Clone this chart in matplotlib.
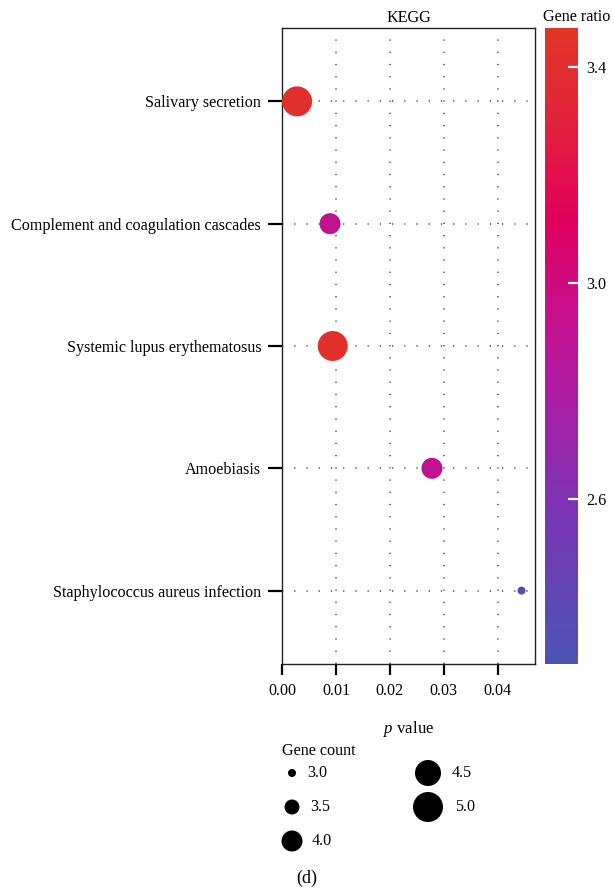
import numpy as np
import matplotlib
matplotlib.use("Agg")
import matplotlib.pyplot as plt
from matplotlib.colors import LinearSegmentedColormap, Normalize
from matplotlib.colorbar import ColorbarBase

plt.rcParams['font.family'] = ['Liberation Serif', 'DejaVu Serif']
plt.rcParams['mathtext.fontset'] = 'custom'
plt.rcParams['mathtext.rm'] = 'Liberation Serif'
plt.rcParams['mathtext.it'] = 'Liberation Serif:italic'

pathways = ["Salivary secretion", "Complement and coagulation cascades",
            "Systemic lupus erythematosus", "Amoebiasis",
            "Staphylococcus aureus infection"]
p_values = [0.0028, 0.0089, 0.0094, 0.0278, 0.0444]
gene_ratio = [3.42, 2.92, 3.42, 2.92, 2.38]
gene_count = [5.0, 4.0, 5.0, 4.0, 3.0]

legend_counts = [3.0, 3.5, 4.0, 4.5, 5.0]
legend_diam_px = [8, 15, 21, 26, 30]

x_ticks = [0.00, 0.01, 0.02, 0.03, 0.04]
cbar_ticks = [2.6, 3.0, 3.4]
ratio_min, ratio_max = 2.295, 3.472

FS = 11.6

cmap = LinearSegmentedColormap.from_list("gr", [
    (0.0, "#4b55b2"), (0.25, "#7d33b4"), (0.45, "#b3199f"),
    (0.58, "#cc0c86"), (0.7, "#e0005c"), (0.85, "#e2223c"), (1.0, "#e03526")])
norm = Normalize(ratio_min, ratio_max)

def size_pts2(c):
    d = np.interp(c, legend_counts, legend_diam_px) * 0.72
    return d ** 2

fig = plt.figure(figsize=(6.14, 8.91), dpi=100)
ax = fig.add_axes([282/614, 1-664/891, 253/614, 636/891])

ypos = np.arange(1, len(pathways) + 1)
ax.set_ylim(5.6, 0.4)
ax.set_xlim(0, 0.0469)
for xv in x_ticks[1:]:
    ax.axvline(xv, color='#444444', lw=1.1, ls=(0, (0.8, 7.2)), zorder=1)
for yv in ypos:
    ax.axhline(yv, color='#444444', lw=1.1, ls=(0, (0.8, 7.2)), zorder=1)

ax.scatter(p_values, ypos, s=[size_pts2(c) for c in gene_count],
           c=[cmap(norm(r)) for r in gene_ratio], edgecolors='none', zorder=3)

ax.set_yticks(ypos)
ax.set_yticklabels(pathways, fontsize=FS)
ax.set_xticks(x_ticks)
ax.set_xticklabels([f"{v:.2f}" for v in x_ticks], fontsize=FS)
ax.tick_params(axis='y', length=10, width=1.6, pad=5)
ax.tick_params(axis='x', length=8, width=1.6, pad=6)
for sp in ax.spines.values():
    sp.set_linewidth(1.0)
    sp.set_color('#222222')
ax.set_xlabel(r"$\it{p}$ value", fontsize=FS + 0.5, labelpad=14)
ax.set_title("KEGG", fontsize=FS, pad=4)

cax = fig.add_axes([545/614, 1-664/891, 33/614, 636/891])
cb = ColorbarBase(cax, cmap=cmap, norm=norm, orientation='vertical')
cb.outline.set_visible(False)
cb.set_ticks(cbar_ticks)
cb.set_ticklabels([f"{v:.1f}" for v in cbar_ticks])
cax.tick_params(axis='y', direction='in', color='white', length=7, width=1.6,
                labelsize=FS, pad=6)
fig.text(577/614, 1-17/891, "Gene ratio", ha='center', va='center', fontsize=FS)

# Gene count legend
fig.text(282/614, 1-751/891, "Gene count", ha='left', va='center', fontsize=FS)
leg_pos = [(292, 773), (292, 807), (292, 841), (428, 773), (428, 807)]
lab_x = [307, 310, 312, 452, 455]
lax = fig.add_axes([0, 0, 1, 1], facecolor='none')
lax.set_xlim(0, 614)
lax.set_ylim(891, 0)
lax.axis('off')
for (px, py), lx, c in zip(leg_pos, lab_x, legend_counts):
    lax.scatter([px], [py], s=size_pts2(c), c='black', edgecolors='none')
    lax.text(lx, py, f"{c:.1f}", ha='left', va='center', fontsize=FS)
fig.text(307/614, 1-878/891, "(d)", ha='center', va='center', fontsize=13)

fig.savefig("out.png", dpi=100)
